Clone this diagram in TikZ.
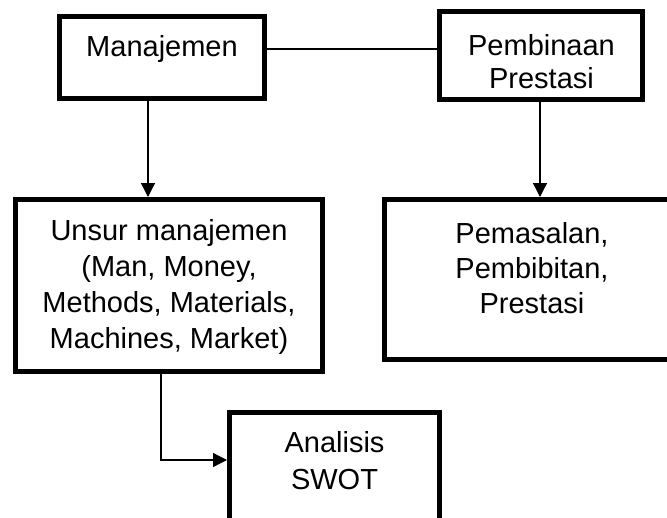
\documentclass[tikz,border=0pt]{standalone}
\usepackage{fontspec}
\setmainfont{Liberation Sans}
\usetikzlibrary{arrows.meta}
\tikzset{
  box/.style={draw, rectangle, line width=5pt, inner sep=0pt, fill=white},
  lbl/.style={anchor=north, inner sep=0pt, align=center},
  conn/.style={line width=1.3pt},
  arr/.style={line width=1.3pt, -{Triangle[length=14pt,width=14pt]}}
}
\begin{document}
\begin{tikzpicture}[x=1pt,y=-1pt]
\useasboundingbox (0,0) rectangle (667,517);
\clip (0,0) rectangle (667,517);
\fill[white] (0,0) rectangle (667,517);
% boxes
\node[box, minimum width=205pt, minimum height=82pt] (mgmt) at (162,57.5) {};
\node[box, minimum width=203pt, minimum height=88pt] (pemb) at (541,55.5) {};
\node[box, minimum width=307pt, minimum height=172pt] (unsur) at (169,285.5) {};
\node[box, minimum width=296.5pt, minimum height=160pt] (pemas) at (532.75,279.5) {};
\node[box, minimum width=210pt, minimum height=127.5pt] (swot) at (334.5,476.25) {};
% texts
\node[lbl, font=\fontsize{29}{33}\selectfont] (tmgmt) at (162,35) {Manajemen};
\node[lbl, font=\fontsize{29}{33}\selectfont] (tpemb) at (541.5,34) {Pembinaan\\Prestasi};
\node[lbl, font=\fontsize{29}{36}\selectfont] (tunsur) at (169,219) {Unsur manajemen\\(Man, Money,\\Methods, Materials,\\Machines, Market)};
\node[lbl, font=\fontsize{29}{35}\selectfont] (tpemas) at (532,222) {Pemasalan,\\Pembibitan,\\Prestasi};
\node[lbl, font=\fontsize{29}{37}\selectfont] (tswot) at (334.5,431) {Analisis\\SWOT};
% helper coordinates
\coordinate (lk) at (0,49);
\coordinate (a1) at (148,0);
\coordinate (a2) at (540,0);
\coordinate (e1) at (161,460);
% connectors
\draw[conn] (mgmt.east |- lk) -- (pemb.west |- lk);
\draw[arr] (mgmt.south -| a1) -- (unsur.north -| a1);
\draw[arr] (pemb.south -| a2) -- (pemas.north -| a2);
\draw[arr] (unsur.south -| e1) |- (swot.west |- e1);
\end{tikzpicture}
\end{document}
